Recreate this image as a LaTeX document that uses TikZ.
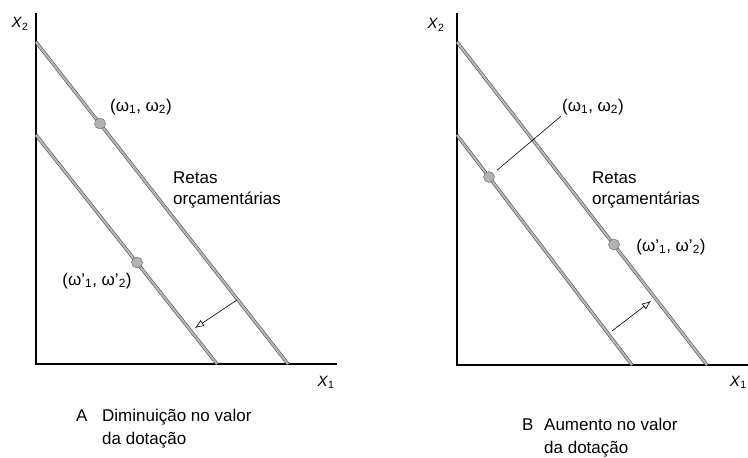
\documentclass[tikz,border=0pt]{standalone}
\usepackage{fontspec}
\setmainfont{Liberation Sans}
\usepackage{tikz}
\usetikzlibrary{arrows.meta, positioning}
\tikzset{
  budget/.style={draw=black!70, line width=0.6pt, double=gray!55, double distance=2pt},
  axisline/.style={draw=black, line width=1.1pt},
  endow/.style={circle, draw=black!60, fill=gray!60, minimum size=11pt, inner sep=0pt},
  lbl/.style={font=\fontsize{17}{20.5}\selectfont, inner sep=1pt},
  axlbl/.style={font=\fontsize{15}{18}\selectfont, inner sep=0pt},
  capline/.style={font=\fontsize{17}{20}\selectfont, inner sep=0pt, anchor=base west},
  shiftarr/.style={-{Latex[open, length=9pt, width=7pt]}, line width=0.6pt}
}

\begin{document}
\begin{tikzpicture}[x=1pt, y=-1pt]
\useasboundingbox (0,0) rectangle (748,458);

% A: endowment loses value
\coordinate (aO) at (36,364);
\draw[axisline] (36,13) -- (aO) -- (337,364);
\node[axlbl] (aX2) at (20,24) {\textit{X}\textsubscript{2}};
\node[axlbl] (aX1) at (326,382) {\textit{X}\textsubscript{1}};

\coordinate (aHi1) at (36,42);
\coordinate (aHi2) at (288,364);
\coordinate (aLo1) at (36,135);
\coordinate (aLo2) at (217,364);
\draw[budget] (aHi1) -- (aHi2);
\draw[budget] (aLo1) -- (aLo2);

\node[endow] (aW) at (100,123.5) {};
\node[endow] (aWp) at (137,262.5) {};
\node[lbl] (aWlbl) at (141,107) {(ω\textsubscript{1}, ω\textsubscript{2})};
\node[lbl] (aWplbl) at (97,281) {(ω’\textsubscript{1}, ω’\textsubscript{2})};
\node[lbl, align=left, anchor=west] (aRetas) at (172,190) {Retas\\orçamentárias};

\coordinate (aFrom) at (237,300);
\coordinate (aTo) at (195,328);
\draw[shiftarr] (aFrom) -- (aTo);

\node[capline] (aCapL) at (76,421) {A};
\node[capline] (aCap1) at (102,421) {Diminuição no valor};
\node[capline] (aCap2) at ([yshift=-23pt]aCap1.base west) {da dotação};

% B: endowment gains value
\coordinate (bO) at (457,365);
\draw[axisline] (457,13) -- (bO) -- (760,365);
\node[axlbl] (bX2) at (436,25) {\textit{X}\textsubscript{2}};
\node[axlbl, anchor=east] (bX1) at (747,382) {\textit{X}\textsubscript{1}};

\coordinate (bHi1) at (457,42);
\coordinate (bHi2) at (707,365);
\coordinate (bLo1) at (457,135);
\coordinate (bLo2) at (632,365);
\draw[budget] (bHi1) -- (bHi2);
\draw[budget] (bLo1) -- (bLo2);

\node[endow] (bW) at (489,177) {};
\node[endow] (bWp) at (614,244.5) {};
\node[lbl] (bWlbl) at (593,107) {(ω\textsubscript{1}, ω\textsubscript{2})};
\node[lbl] (bWplbl) at (671,247) {(ω’\textsubscript{1}, ω’\textsubscript{2})};
\node[lbl, align=left, anchor=west] (bRetas) at (591,190) {Retas\\orçamentárias};
\draw[line width=0.6pt, shorten <=5pt] (bW) -- (bWlbl.south west);

\coordinate (bFrom) at (612,331);
\coordinate (bTo) at (651,301);
\draw[shiftarr] (bFrom) -- (bTo);

\node[capline] (bCapL) at (522,430) {B};
\node[capline] (bCap1) at (544,430) {Aumento no valor};
\node[capline] (bCap2) at ([yshift=-23pt]bCap1.base west) {da dotação};

\end{tikzpicture}
\end{document}
